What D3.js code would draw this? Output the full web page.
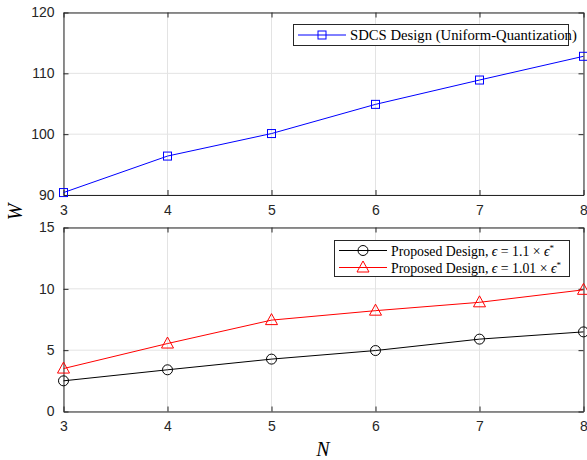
<!DOCTYPE html>
<html>
<head>
<meta charset="utf-8">
<script src="https://cdnjs.cloudflare.com/ajax/libs/d3/7.8.5/d3.min.js"></script>
<style>
  body { margin: 0; background: #fff; }
  .tick text { font-family: "Liberation Sans", Arial, sans-serif; font-size: 14px; fill: #262626; }
  .tex { font-family: "Liberation Serif", "DejaVu Serif", serif; fill: #000; }
</style>
</head>
<body>
<div class="chart"></div>
<script>
// data
var nValues = [3, 4, 5, 6, 7, 8];
var sdcsW = [90.4, 96.4, 100.1, 104.9, 108.9, 112.8];
var proposed11 = [2.5, 3.4, 4.27, 4.97, 5.9, 6.49];
var proposed101 = [3.5, 5.54, 7.45, 8.22, 8.9, 9.92];
var topTicks = [90, 100, 110, 120];
var bottomTicks = [0, 5, 10, 15];

var svgWidth = 587;
var svgHeight = 460;

var left = 63.5, right = 583.5;

var svg = d3.select(".chart")
  .append("svg")
  .attr("width", svgWidth)
  .attr("height", svgHeight);

var x = d3.scaleLinear().domain([3, 8]).range([left, right]);

// draws one axes box with grid, ticks and labels
function drawPanel(top, bottom, yDomain, yTicks) {
  var y = d3.scaleLinear().domain(yDomain).range([bottom, top]);
  var g = svg.append("g");

  // grid
  g.selectAll(".vgrid").data(nValues).enter().append("line")
    .attr("x1", d => x(d)).attr("x2", d => x(d))
    .attr("y1", top).attr("y2", bottom)
    .attr("stroke", "#e3e3e3").attr("stroke-width", 1);
  g.selectAll(".hgrid").data(yTicks).enter().append("line")
    .attr("x1", left).attr("x2", right)
    .attr("y1", d => y(d)).attr("y2", d => y(d))
    .attr("stroke", "#e3e3e3").attr("stroke-width", 1);

  var fmt = d3.format("d");
  var xAxis = d3.axisBottom(x).tickValues(nValues).tickFormat(fmt).tickSizeInner(-5).tickSizeOuter(0).tickPadding(10);
  var yAxis = d3.axisLeft(y).tickValues(yTicks).tickFormat(fmt).tickSizeInner(-5).tickSizeOuter(0).tickPadding(9);
  var xTop = d3.axisTop(x).tickValues(nValues).tickSizeInner(-5).tickSizeOuter(0).tickFormat("");
  var yRight = d3.axisRight(y).tickValues(yTicks).tickSizeInner(-5).tickSizeOuter(0).tickFormat("");

  [
    g.append("g").attr("transform", `translate(0, ${bottom})`).call(xAxis),
    g.append("g").attr("transform", `translate(${left}, 0)`).call(yAxis),
    g.append("g").attr("transform", `translate(0, ${top})`).call(xTop),
    g.append("g").attr("transform", `translate(${right}, 0)`).call(yRight)
  ].forEach(function(a) {
    a.select(".domain").attr("stroke", "#262626");
    a.selectAll(".tick line").attr("stroke", "#262626");
  });

  return y;
}

var yTop = drawPanel(12.5, 195, [90, 120], topTicks);
var yBot = drawPanel(227.5, 411.5, [0, 15], bottomTicks);

function drawLine(vals, y, color) {
  svg.append("path")
    .datum(vals)
    .attr("fill", "none")
    .attr("stroke", color)
    .attr("stroke-width", 1)
    .attr("d", d3.line().x((d, i) => x(nValues[i])).y(d => y(d)));
}

function marker(sel, kind, color) {
  if (kind === "square") {
    sel.append("rect").attr("x", -4).attr("y", -4).attr("width", 8).attr("height", 8);
  } else if (kind === "circle") {
    sel.append("circle").attr("r", 5);
  } else {
    sel.append("path").attr("d", "M0,-6.5L6,4.5L-6,4.5Z");
  }
  sel.selectAll("rect,circle,path").attr("fill", "none").attr("stroke", color).attr("stroke-width", 1);
}

function drawMarkers(vals, y, kind, color) {
  svg.selectAll(null).data(vals).enter().append("g")
    .attr("transform", (d, i) => `translate(${x(nValues[i])}, ${y(d)})`)
    .each(function() { marker(d3.select(this), kind, color); });
}

drawLine(sdcsW, yTop, "#0000ff");
drawMarkers(sdcsW, yTop, "square", "#0000ff");
drawLine(proposed11, yBot, "#000000");
drawMarkers(proposed11, yBot, "circle", "#000000");
drawLine(proposed101, yBot, "#ff0000");
drawMarkers(proposed101, yBot, "triangle", "#ff0000");

// legends
function legendBox(x0, y0, w, h) {
  svg.append("rect").attr("x", x0).attr("y", y0).attr("width", w).attr("height", h)
    .attr("fill", "#fff").attr("stroke", "#262626").attr("stroke-width", 1);
}
function legendEntry(x0, yy, kind, color) {
  svg.append("line").attr("x1", x0).attr("x2", x0 + 48).attr("y1", yy).attr("y2", yy)
    .attr("stroke", color).attr("stroke-width", 1);
  var m = svg.append("g").attr("transform", `translate(${x0 + 24}, ${yy})`);
  marker(m, kind, color);
}

legendBox(293.5, 24.5, 275, 21);
legendEntry(298, 35, "square", "#0000ff");
svg.append("text").attr("class", "tex").attr("x", 350).attr("y", 40)
  .attr("font-size", 14.7).text("SDCS Design (Uniform-Quantization)");

legendBox(334.5, 240.5, 235, 36);
legendEntry(339, 250.5, "circle", "#000000");
legendEntry(339, 267.5, "triangle", "#ff0000");

function epsText(yy, factor) {
  var t = svg.append("text").attr("class", "tex").attr("x", 391).attr("y", yy).attr("font-size", 13.8);
  t.append("tspan").text("Proposed Design, ");
  t.append("tspan").attr("font-style", "italic").text("ϵ");
  t.append("tspan").text(" = " + factor + " × ");
  t.append("tspan").attr("font-style", "italic").text("ϵ");
  t.append("tspan").attr("font-size", 9).attr("dy", -5).text("*");
}
epsText(255.5, "1.1");
epsText(272.5, "1.01");

// axis labels
svg.append("text").attr("class", "tex")
  .attr("transform", "translate(22, 212) rotate(-90)")
  .attr("text-anchor", "middle")
  .attr("font-size", 20).attr("font-style", "italic").text("W");
svg.append("text").attr("class", "tex")
  .attr("x", 323).attr("y", 456)
  .attr("text-anchor", "middle")
  .attr("font-size", 20).attr("font-style", "italic").text("N");
</script>
</body>
</html>
